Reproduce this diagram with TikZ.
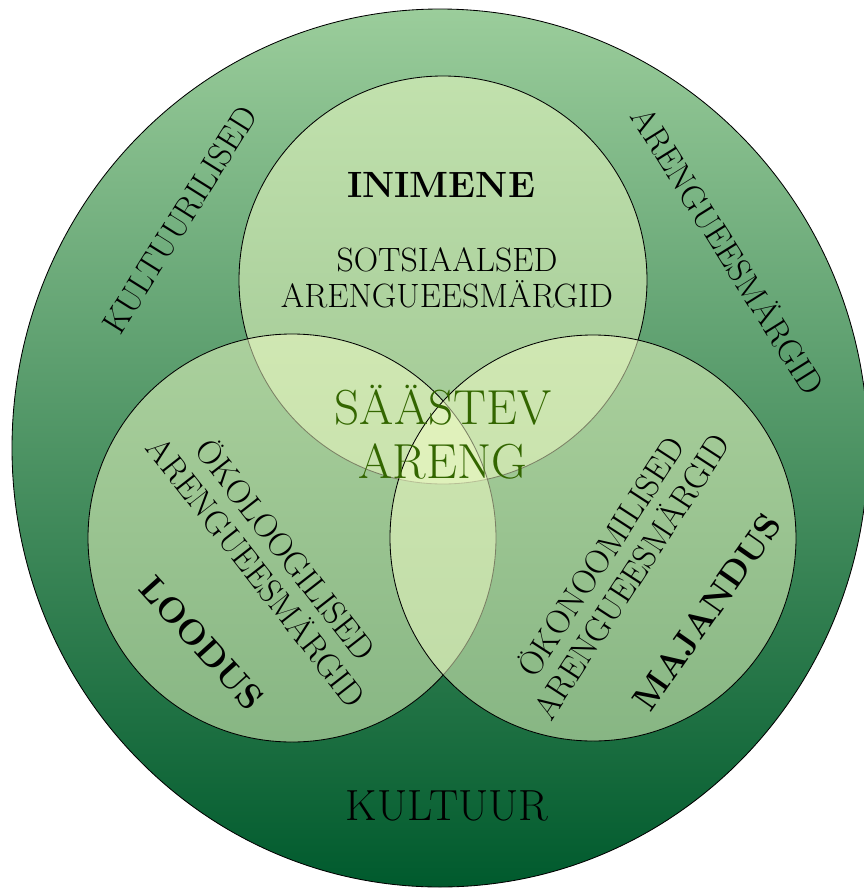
\documentclass[tikz,border=0pt]{standalone}
\usepackage{fontspec}

\definecolor{outertop}{RGB}{155,205,155}
\definecolor{outerbottom}{RGB}{0,90,45}
\definecolor{ringfill}{RGB}{245,255,200}
\definecolor{aimgreen}{RGB}{51,102,0}

\tikzset{
    ring/.style={draw=black, line width=0.6pt, fill=ringfill, fill opacity=0.5},
    lbl/.style={font=\fontsize{24}{26}\selectfont, align=center, inner sep=0pt},
}

\begin{document}
\begin{tikzpicture}[x=0.025cm, y=-0.025cm]
    \useasboundingbox (0,0) rectangle (863,889);
    % outer ring: culture
    \draw[top color=outertop, bottom color=outerbottom, line width=0.6pt]
        (440,448) ellipse [x radius=428, y radius=439];
    % three circles
    \draw[ring] (443,280) circle [radius=204];
    \draw[ring] (292,538) circle [radius=204];
    \draw[ring] (593,538) circle [radius=203];
    % labels
    \node[lbl, font=\fontsize{26}{30}\selectfont\bfseries] (inimene) at (441,185) {INIMENE};
    \node[lbl] (sots) at (447,278) {SOTSIAALSED\\ARENGUEESMÄRGID};
    \node[lbl, text=aimgreen, font=\fontsize{35}{38}\selectfont] (areng) at (443,432) {SÄÄSTEV\\ARENG};
    \node[lbl, font=\fontsize{31}{34}\selectfont] (kultuur) at (447,806) {KULTUUR};
    \node[lbl, rotate=58] (kultlis) at (180,220) {KULTUURILISED};
    \node[lbl, rotate=-58] (kultaim) at (729,250) {ARENGUEESMÄRGID};
    \node[lbl, rotate=-52] (oko) at (272,560) {ÖKOLOOGILISED\\ARENGUEESMÄRGID};
    \node[lbl, font=\fontsize{25}{30}\selectfont\bfseries, rotate=-48] (loodus) at (202,643) {LOODUS};
    \node[lbl, rotate=57] (okon) at (615,566) {ÖKONOOMILISED\\ARENGUEESMÄRGID};
    \node[lbl, font=\fontsize{25}{30}\selectfont\bfseries, rotate=55] (majandus) at (707,612) {MAJANDUS};
\end{tikzpicture}
\end{document}
